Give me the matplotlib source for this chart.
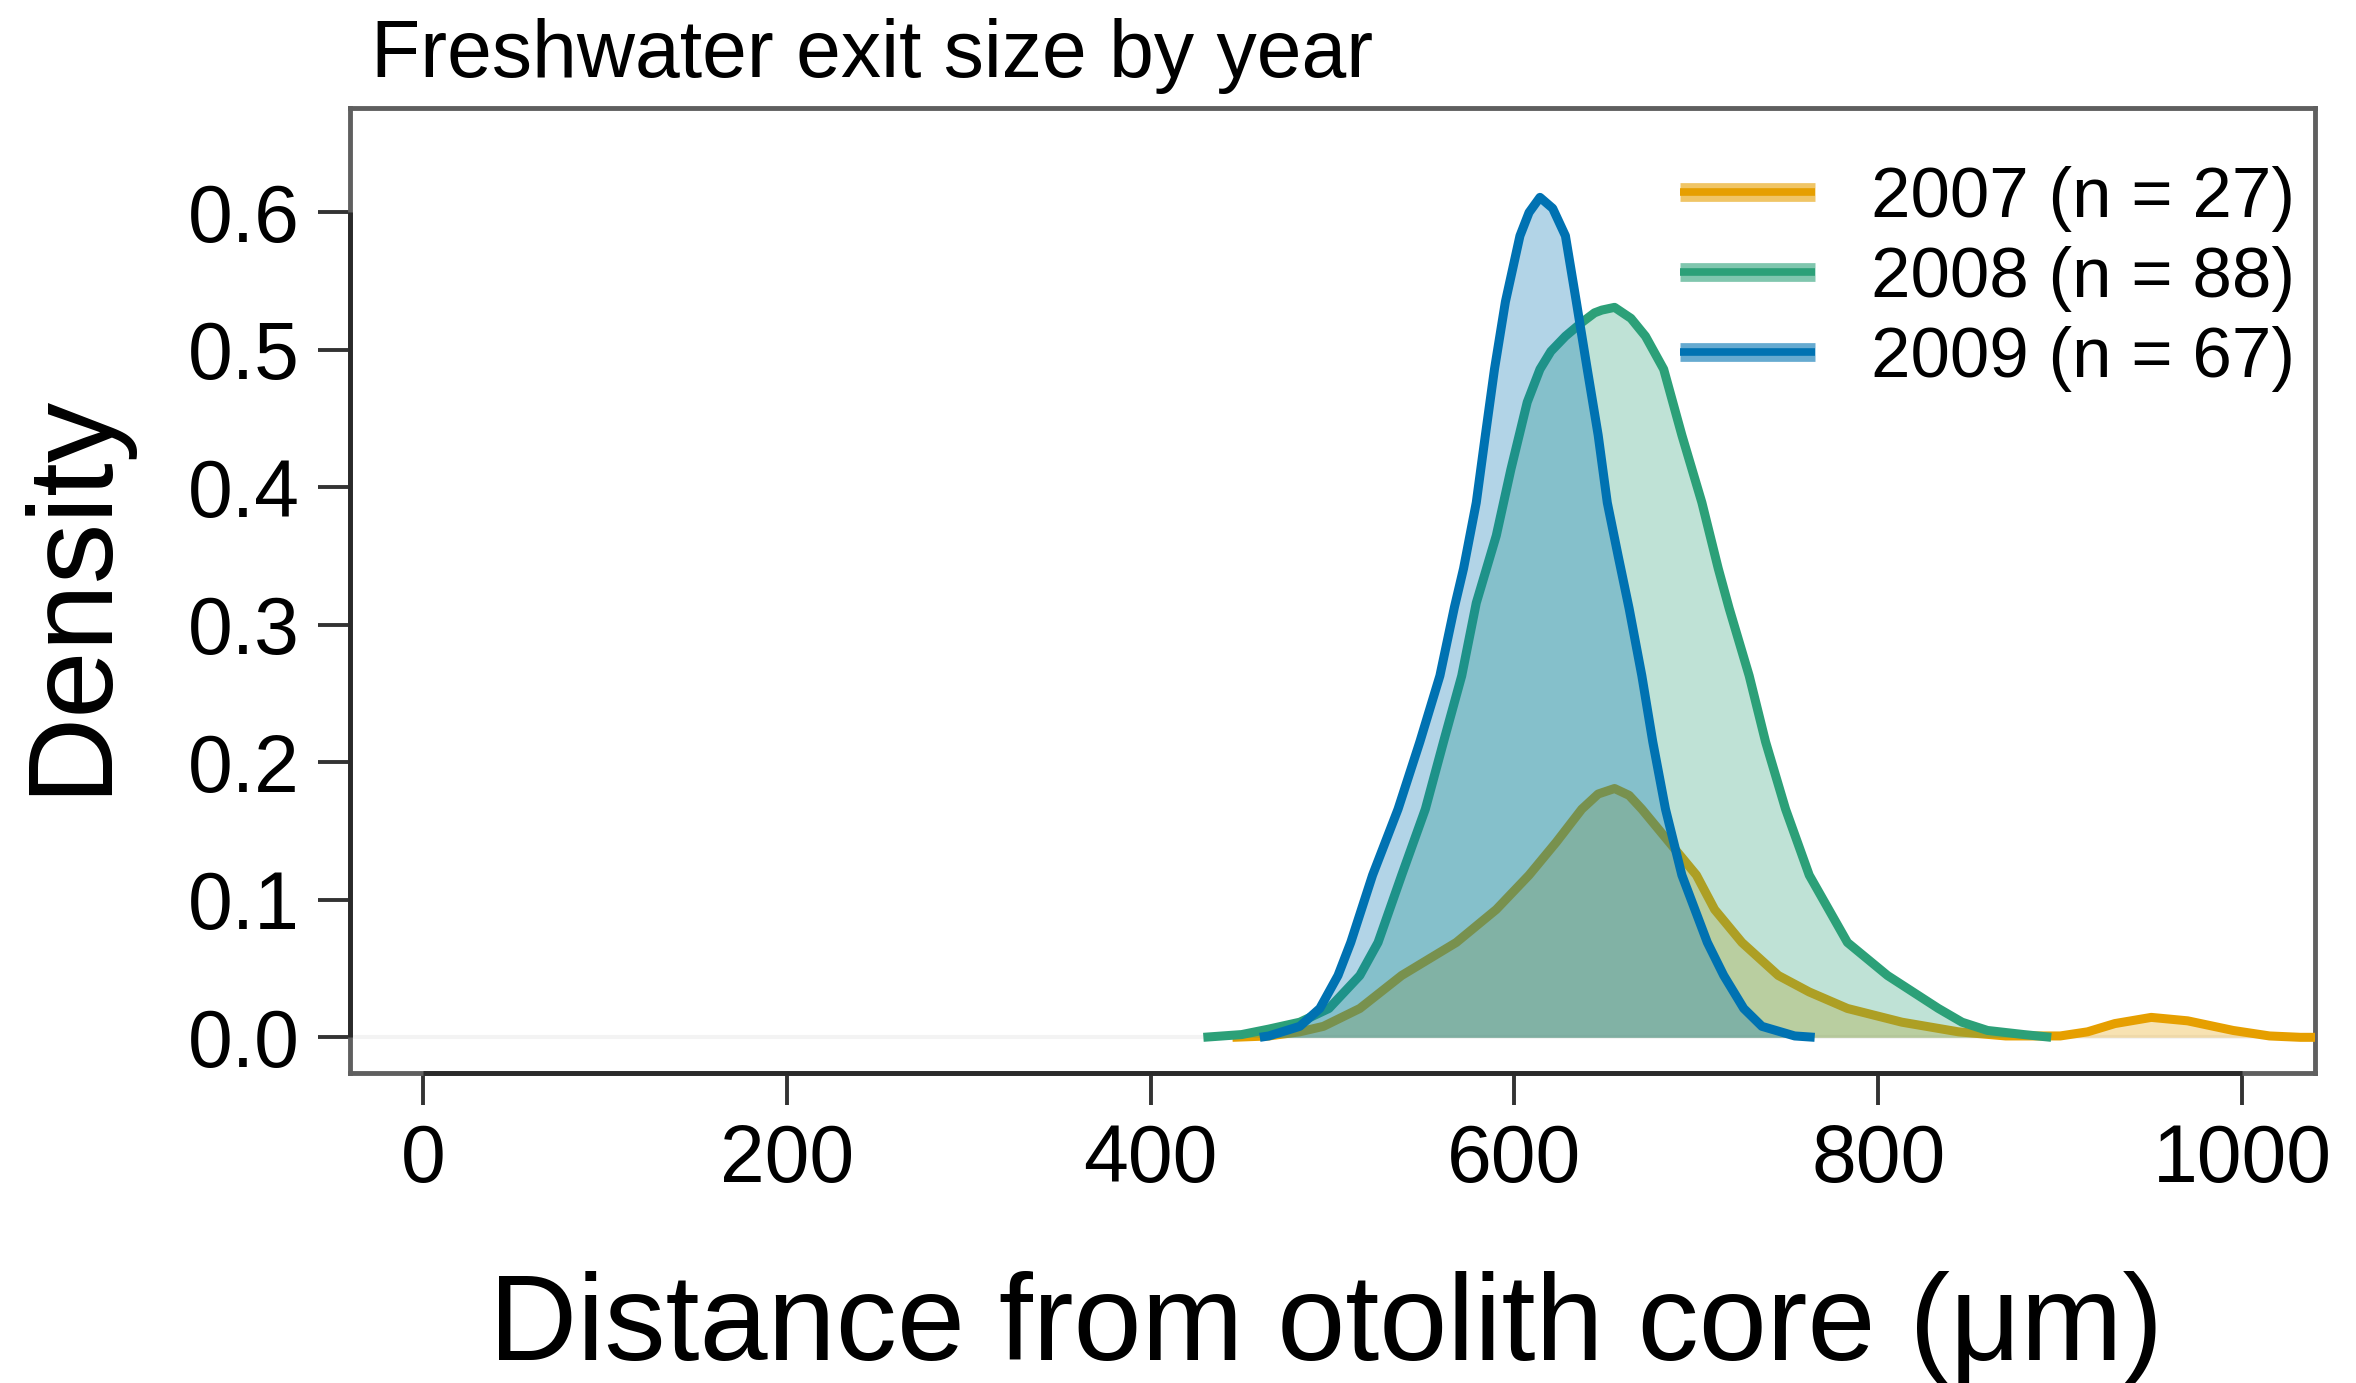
import matplotlib
matplotlib.use('Agg')
import matplotlib.pyplot as plt
from matplotlib.lines import Line2D
from matplotlib.ticker import FormatStrFormatter

plt.rcParams['font.family'] = ['Liberation Sans', 'DejaVu Sans']

# density curves
x_2007 = [445, 465, 482, 495, 515, 538, 568, 590, 608, 623, 637, 646, 655, 663, 670,
          685, 700, 710, 725, 745, 762, 783, 813, 844, 870, 900, 915, 930, 950, 970,
          995, 1015, 1032, 1060]
d_2007 = [0.0, 0.001, 0.004, 0.008, 0.021, 0.045, 0.069, 0.093, 0.118, 0.142, 0.166, 0.177,
          0.181, 0.176, 0.166, 0.142, 0.118, 0.093, 0.069, 0.045, 0.033, 0.021, 0.011, 0.004,
          0.001, 0.001, 0.004, 0.010, 0.0145, 0.012, 0.005, 0.001, 0.0, 0.0]

x_2008 = [429, 450, 465, 482, 498, 515, 525, 538, 551, 561, 571, 579, 590, 598, 607, 614,
          620, 628, 637, 644, 648, 655, 664, 672, 682, 692, 703, 712, 718, 729, 738, 749,
          762, 783, 805, 833, 846, 860, 880, 895]
d_2008 = [0.0, 0.002, 0.006, 0.011, 0.021, 0.045, 0.069, 0.118, 0.166, 0.215, 0.263, 0.316,
          0.365, 0.413, 0.462, 0.486, 0.499, 0.510, 0.520, 0.527, 0.529, 0.531, 0.523, 0.510,
          0.486, 0.438, 0.389, 0.341, 0.312, 0.263, 0.215, 0.166, 0.118, 0.069, 0.045, 0.021,
          0.011, 0.005, 0.002, 0.0]

x_2009 = [460, 465, 482, 493, 503, 510, 522, 536, 548, 559, 567, 572, 579, 584, 589, 595,
          603, 608, 614, 621, 628, 634, 640, 646, 651, 657, 663, 670, 676, 683, 692, 706,
          715, 726, 736, 754, 765]
d_2009 = [0.0, 0.001, 0.008, 0.021, 0.045, 0.069, 0.118, 0.166, 0.215, 0.263, 0.313, 0.341,
          0.389, 0.438, 0.486, 0.535, 0.583, 0.600, 0.611, 0.603, 0.583, 0.535, 0.486, 0.438,
          0.389, 0.350, 0.312, 0.263, 0.215, 0.166, 0.118, 0.069, 0.045, 0.021, 0.008, 0.001,
          0.0]

years = ['2007', '2008', '2009']
n_fish = [27, 88, 67]
colors = ['#E69F00', '#2CA078', '#0072B2']
x_ticks = [0, 200, 400, 600, 800, 1000]
y_ticks = [0.0, 0.1, 0.2, 0.3, 0.4, 0.5, 0.6]

fig = plt.figure(figsize=(23.56, 13.83), dpi=100)
ax = fig.add_axes([0.1486, 0.2241, 0.834, 0.6978])

ax.axhline(0, color='#f3f3f3', lw=3, zorder=0)

curves = [(x_2007, d_2007), (x_2008, d_2008), (x_2009, d_2009)]
handles = []
labels = []
for i, ((xs, ds), col, yr, n) in enumerate(zip(curves, colors, years, n_fish)):
    # each year: fill then line, so later fills tint earlier lines
    ax.fill_between(xs, 0, ds, color=col, alpha=0.3, linewidth=0, zorder=2 + 2 * i)
    ax.plot(xs, ds, color=col, lw=6.5, solid_capstyle='butt', solid_joinstyle='round',
            zorder=3 + 2 * i)
    handles.append((Line2D([], [], color=col, lw=13.5, alpha=0.6, solid_capstyle='butt'),
                    Line2D([], [], color=col, lw=5.5, solid_capstyle='butt')))
    labels.append('%s (n = %d)' % (yr, n))

ax.set_xlim(-40, 1040)
ax.set_ylim(-0.026, 0.676)
ax.set_xticks(x_ticks)
ax.set_yticks(y_ticks)
ax.yaxis.set_major_formatter(FormatStrFormatter('%.1f'))
ax.tick_params(axis='both', length=23, width=2.8, color='#333333', labelsize=58, pad=13)

for sp in ax.spines.values():
    sp.set_color('#5f5f5f')
    sp.set_linewidth(3.5)

# darker axis lines over the data range, like R's axis()
ax.plot([0, 1000], [0, 0], color='#2a2a2a', lw=3.5, clip_on=False,
        transform=ax.get_xaxis_transform(), solid_capstyle='butt', zorder=10)
ax.plot([0, 0], [0, 0.6], color='#2a2a2a', lw=3.5, clip_on=False,
        transform=ax.get_yaxis_transform(), solid_capstyle='butt', zorder=10)

leg = ax.legend(handles, labels, loc='upper left', bbox_to_anchor=(0.6768, 0.940),
                frameon=False, fontsize=51, handlelength=1.91, handletextpad=0.79,
                labelspacing=0.2, borderpad=0, borderaxespad=0)
leg.set_zorder(20)

fig.text(0.1575, 0.9443, 'Freshwater exit size by year', fontsize=58, ha='left', va='baseline')
fig.text(0.0305, 0.5712, 'Density', rotation=90, fontsize=87, ha='center', va='center')
fig.text(0.5628, 0.01663, 'Distance from otolith core (μm)', fontsize=88, ha='center', va='baseline')

fig.savefig('out.png', dpi=100)
